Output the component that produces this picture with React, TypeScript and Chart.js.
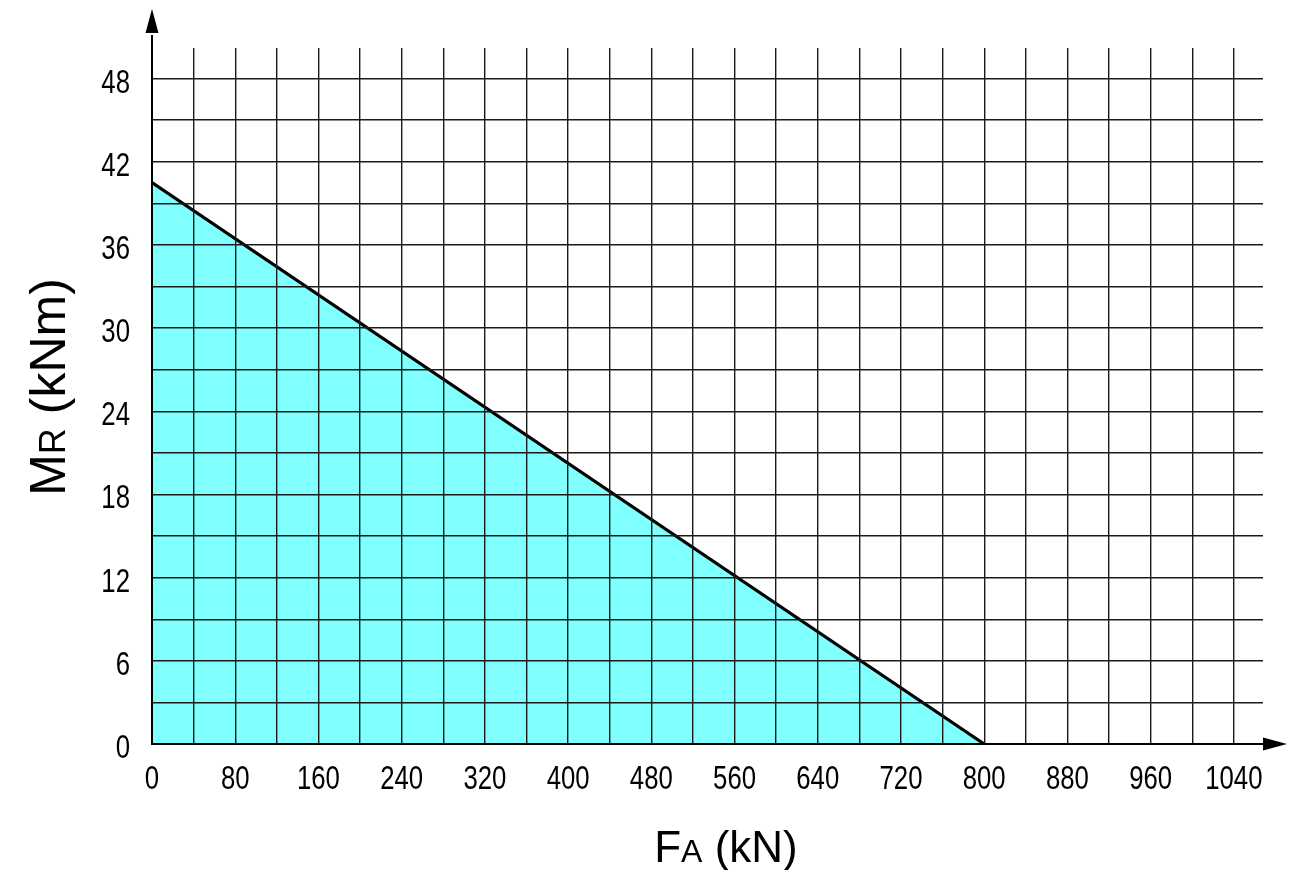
import React, { useEffect, useRef } from 'react';
import { Chart, registerables } from 'chart.js';

Chart.register(...registerables);

// ---- data ----
const faValues = [0, 800]; // F_A (kN)
const mrValues = [40.5, 0]; // M_R (kNm)
const xTickLabels = ['0', '80', '160', '240', '320', '400', '480', '560', '640', '720', '800', '880', '960', '1040'];
const yTickLabels = ['0', '6', '12', '18', '24', '30', '36', '42', '48'];
const xMax = 1068;
const yMax = 50.2;
const xGridStep = 40;
const yGridStep = 3;
const xGridLast = 1040;
const yGridLast = 48;

const TITLE_FONT = "'Liberation Sans', Arial, sans-serif";
const TICK_SIZE = 33;
const TICK_SQUEEZE = 0.78;

const axesPlugin = {
  id: 'axesArrowsTitles',
  afterDraw(chart: any) {
    const ctx: CanvasRenderingContext2D = chart.ctx;
    const { right, top } = chart.chartArea;
    const xs = chart.scales.x;
    const ys = chart.scales.y;
    const x0 = xs.getPixelForValue(0);
    const y0 = ys.getPixelForValue(0);
    ctx.save();
    ctx.strokeStyle = '#000';
    ctx.fillStyle = '#000';
    ctx.lineWidth = 2;
    // x axis
    ctx.beginPath();
    ctx.moveTo(x0 - 1, y0);
    ctx.lineTo(right + 2, y0);
    ctx.stroke();
    ctx.beginPath();
    ctx.moveTo(right + 24, y0);
    ctx.lineTo(right, y0 - 6.5);
    ctx.lineTo(right, y0 + 6.5);
    ctx.closePath();
    ctx.fill();
    // y axis
    ctx.beginPath();
    ctx.moveTo(x0, y0 + 1);
    ctx.lineTo(x0, top - 13);
    ctx.stroke();
    ctx.beginPath();
    ctx.moveTo(x0, top - 39);
    ctx.lineTo(x0 - 6.5, top - 15);
    ctx.lineTo(x0 + 6.5, top - 15);
    ctx.closePath();
    ctx.fill();

    // tick labels (narrow face emulated by horizontal squeeze)
    ctx.font = `${TICK_SIZE}px ${TITLE_FONT}`;
    ctx.textBaseline = 'alphabetic';
    ctx.textAlign = 'center';
    for (const lbl of xTickLabels) {
      const px = xs.getPixelForValue(Number(lbl));
      ctx.save();
      ctx.translate(px, y0 + 45);
      ctx.scale(TICK_SQUEEZE, 1);
      ctx.fillText(lbl, 0, 0);
      ctx.restore();
    }
    ctx.textAlign = 'right';
    for (const lbl of yTickLabels) {
      const py = ys.getPixelForValue(Number(lbl));
      ctx.save();
      ctx.translate(x0 - 22, py + 14);
      ctx.scale(TICK_SQUEEZE, 1);
      ctx.fillText(lbl, 0, 0);
      ctx.restore();
    }

    // x title: F_A (kN)
    const S = 44, s = 32;
    ctx.textAlign = 'left';
    const parts: [string, number][] = [['F', S], ['A', s], [' (kN)', S]];
    let total = 0;
    for (const [t, sz] of parts) { ctx.font = `${sz}px ${TITLE_FONT}`; total += ctx.measureText(t).width; }
    let cx = 726 - total / 2;
    for (const [t, sz] of parts) {
      ctx.font = `${sz}px ${TITLE_FONT}`;
      ctx.fillText(t, cx, 862);
      cx += ctx.measureText(t).width;
    }

    // y title: M_R (kNm)
    const S2 = 50, s2 = 36;
    const parts2: [string, number][] = [['M', S2], ['R', s2], [' (kNm)', S2]];
    let total2 = 0;
    for (const [t, sz] of parts2) { ctx.font = `${sz}px ${TITLE_FONT}`; total2 += ctx.measureText(t).width; }
    ctx.translate(65, 387);
    ctx.rotate(-Math.PI / 2);
    let cy = -total2 / 2;
    for (const [t, sz] of parts2) {
      ctx.font = `${sz}px ${TITLE_FONT}`;
      ctx.fillText(t, cy, 0);
      cy += ctx.measureText(t).width;
    }
    ctx.restore();
  },
};

function gridTicks(step: number, last: number) {
  const out: { value: number }[] = [];
  for (let i = 0; i * step <= last + 1e-9; i++) out.push({ value: i * step });
  return out;
}

export default function App() {
  const ref = useRef<HTMLCanvasElement | null>(null);

  useEffect(() => {
    if (!ref.current) return;
    const points = faValues.map((x, i) => ({ x, y: mrValues[i] }));
    const gridColor = (c: any) => (c.tick && c.tick.value === 0 ? 'rgba(0,0,0,0)' : '#1a1a1a');
    const chart = new Chart(ref.current, {
      type: 'line',
      data: {
        datasets: [
          {
            data: points,
            borderColor: '#000',
            borderWidth: 3.2,
            backgroundColor: '#80ffff',
            fill: 'origin',
            pointRadius: 0,
            tension: 0,
          },
        ],
      },
      options: {
        animation: false,
        responsive: false,
        layout: { padding: { top: 48, right: 37, left: 0, bottom: 0 } },
        plugins: { legend: { display: false }, tooltip: { enabled: false } },
        scales: {
          x: {
            type: 'linear',
            min: 0,
            max: xMax,
            border: { display: false },
            grid: { color: gridColor, lineWidth: 1.4, drawTicks: false, z: 1 },
            ticks: { display: false, autoSkip: false },
            afterBuildTicks: (scale: any) => { scale.ticks = gridTicks(xGridStep, xGridLast); },
            afterFit: (scale: any) => { scale.height = 126; },
          },
          y: {
            type: 'linear',
            min: 0,
            max: yMax,
            border: { display: false },
            grid: { color: gridColor, lineWidth: 1.4, drawTicks: false, z: 1 },
            ticks: { display: false, autoSkip: false },
            afterBuildTicks: (scale: any) => { scale.ticks = gridTicks(yGridStep, yGridLast); },
            afterFit: (scale: any) => { scale.width = 152; },
          },
        },
      },
      plugins: [axesPlugin],
    });
    return () => chart.destroy();
  }, []);

  return (
    <canvas
      ref={ref}
      width={1300}
      height={870}
      style={{ position: 'absolute', left: 0, top: 0, width: 1300, height: 870, display: 'block' }}
    />
  );
}
